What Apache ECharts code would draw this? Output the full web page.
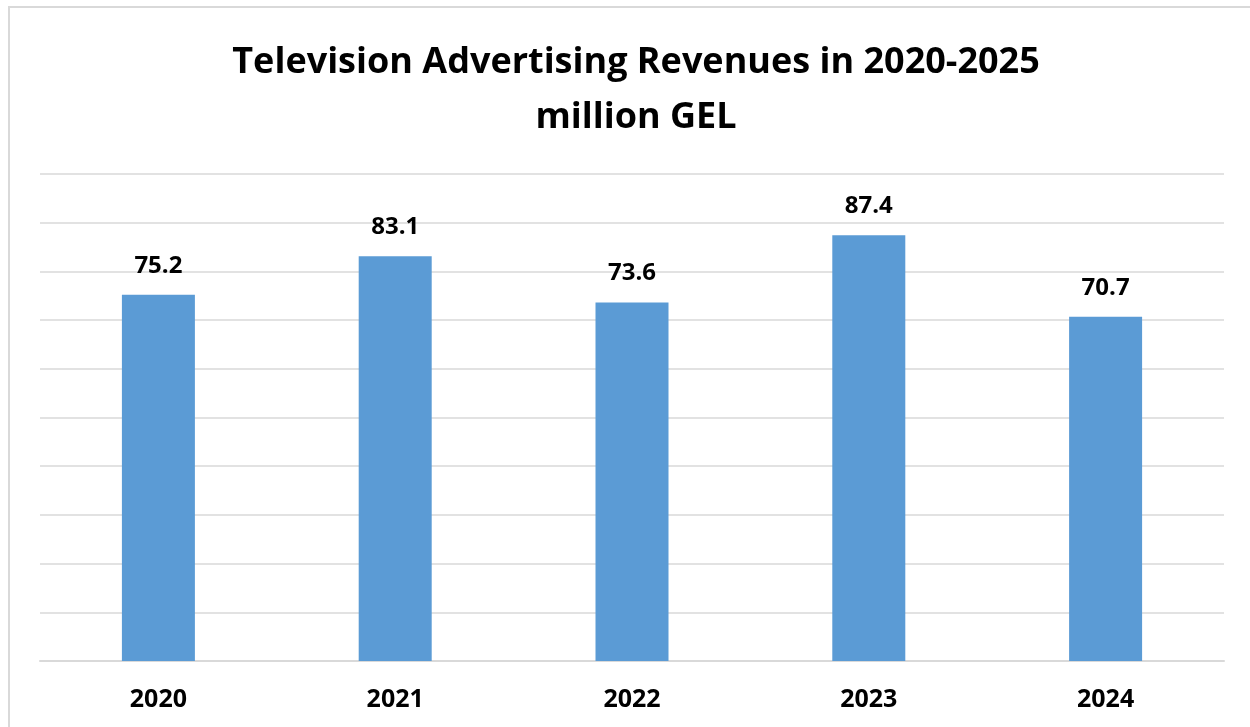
<!DOCTYPE html>
<html>
<head>
<meta charset="utf-8">
<script src="https://cdn.jsdelivr.net/npm/echarts@6/dist/echarts.min.js"></script>
<style>
    html, body { margin: 0; padding: 0; background: #fff; overflow: hidden; }
    #frame { position: absolute; left: 8px; top: 6px; width: 1300px; height: 800px; border: 2px solid #d9d9d9; }
    #chart { position: absolute; left: 0; top: 0; width: 1250px; height: 727px; }
</style>
</head>
<body>
<div id="frame"></div>
<div id="chart"></div>
<script>
// 数据
var years = ['2020', '2021', '2022', '2023', '2024'];
var revenues = [75.2, 83.1, 73.6, 87.4, 70.7];

var chart = echarts.init(document.getElementById('chart'));
var option = {
    title : {
        text : 'Television Advertising Revenues in 2020-2025\nmillion GEL',
        left : 631,
        top : 30,
        textAlign : 'center',
        textStyle : {
            fontFamily : 'Open Sans',
            fontWeight : 'bold',
            fontSize : 36,
            lineHeight : 55,
            color : '#000'
        }
    },
    grid : {
        left : 40,
        right : 26,
        top : 174,
        bottom : 66
    },
    xAxis : {
        type : 'category',
        data : years,
        axisLine : { lineStyle : { color : '#d9d9d9', width : 2 } },
        axisTick : { show : false },
        axisLabel : {
            margin : 26,
            fontFamily : 'Open Sans',
            fontWeight : 'bold',
            fontSize : 25,
            color : '#000'
        }
    },
    yAxis : {
        type : 'value',
        min : 0,
        max : 100,
        interval : 10,
        axisLabel : { show : false },
        axisLine : { show : false },
        axisTick : { show : false },
        splitLine : { lineStyle : { color : '#d9d9d9', width : 1.5 } }
    },
    series : [ {
        type : 'bar',
        data : revenues,
        barWidth : 73,
        itemStyle : { color : '#5b9bd5' },
        label : {
            show : true,
            position : 'top',
            distance : 17,
            fontFamily : 'Open Sans',
            fontWeight : 'bold',
            fontSize : 24,
            color : '#000'
        }
    } ]
};
chart.setOption(option);
</script>
</body>
</html>
